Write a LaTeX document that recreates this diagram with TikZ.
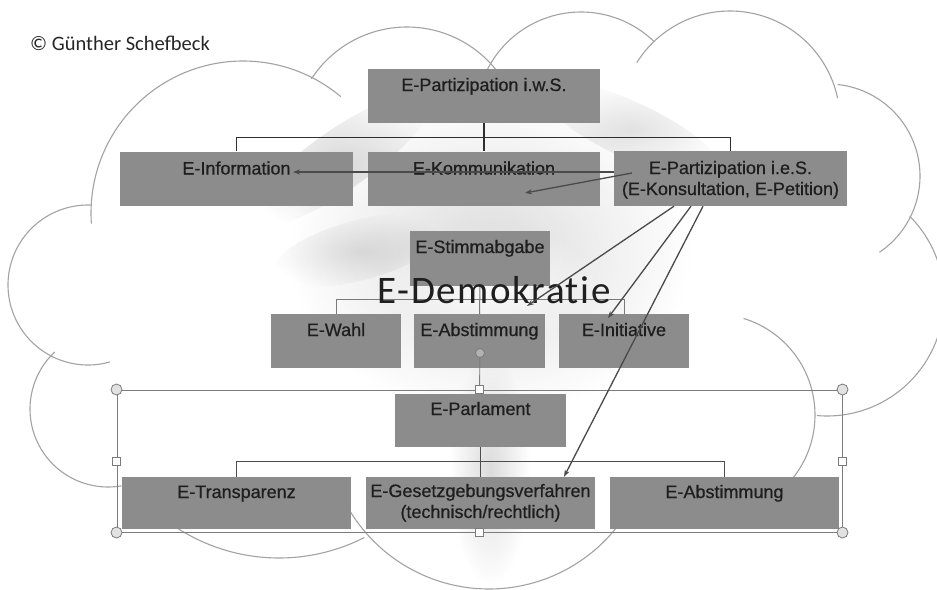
\documentclass[tikz,border=0pt]{standalone}
\usepackage{fontspec}
\setmainfont{Liberation Sans}
\newfontfamily\boxfont{Liberation Sans}[FakeBold=0.6]
\newfontfamily\calfont{Carlito}
\newfontfamily\demofont{Carlito}[LetterSpace=4,Ligatures={NoCommon,NoContextual}]
\usetikzlibrary{arrows.meta,fadings,calc}

\definecolor{boxgray}{HTML}{8C8C8C}
\definecolor{boxtxt}{HTML}{1E1E1E}
\definecolor{cloudc}{HTML}{A3A3A3}
\definecolor{conndark}{HTML}{2E2E2E}
\definecolor{connmid}{HTML}{7A7A7A}
\definecolor{arrc}{HTML}{4A4A4A}
\definecolor{selc}{HTML}{7C7C7C}
\definecolor{handlef}{HTML}{E2E2E2}
\definecolor{splash}{HTML}{8A8A8A}

\tikzfading[name=softblob, inner color=transparent!0, outer color=transparent!100]

\tikzset{
  cloudline/.style={draw=cloudc, line width=1.1pt},
  box/.style={rectangle, fill=boxgray, inner sep=0pt, text height=23pt, text depth=31pt,
    align=center, font=\boxfont\fontsize{18}{21}\selectfont, text=boxtxt},
  tconn/.style={draw=conndark, line width=1.5pt},
  mconn/.style={draw=connmid, line width=1pt},
  bconn/.style={draw=conndark!85, line width=1.2pt},
  arr/.style={draw=arrc, line width=1.3pt, -{Stealth[length=7pt,width=5pt]}},
  selframe/.style={rectangle, draw=selc, line width=1pt, inner sep=0pt},
  hcirc/.style={circle, draw=selc, fill=handlef, line width=0.8pt, minimum size=11pt, inner sep=0pt},
  hsq/.style={rectangle, draw=selc, fill=white, line width=0.8pt, minimum size=8pt, inner sep=0pt},
  rothandle/.style={circle, draw=selc, fill=black!30, line width=0.8pt, minimum size=9pt, inner sep=0pt},
  hline/.style={draw=selc, line width=0.9pt},
  splashblob/.style={fill=splash, path fading=softblob}
}

\newcommand{\cloudarc}[5]{\draw[cloudline] plot[domain=#4:#5,samples=60,smooth] ({#1+#3*cos(\x)},{#2+#3*sin(\x)});}

\begin{document}
\begin{tikzpicture}[x=1pt,y=-1pt]
\useasboundingbox (0,0) rectangle (937,589);
\clip (0,0) rectangle (937,589);
\fill[white] (0,0) rectangle (937,589);

% background burst
\fill[splashblob, fill opacity=0.3] (490,255) ellipse [x radius=200, y radius=160];
\fill[splashblob, fill opacity=0.3] (490,470) ellipse [x radius=40, y radius=115];
\fill[splashblob, fill opacity=0.3, rotate around={35:(340,160)}] (340,160) ellipse [x radius=110, y radius=30];
\fill[splashblob, fill opacity=0.25, rotate around={-25:(630,130)}] (630,130) ellipse [x radius=100, y radius=28];
\fill[splashblob, fill opacity=0.25, rotate around={15:(360,250)}] (360,250) ellipse [x radius=90, y radius=30];
\fill[white, path fading=softblob, fill opacity=0.9] (490,285) ellipse [x radius=110, y radius=60];

% cloud outline
\cloudarc{243}{213}{152}{176}{310}
\cloudarc{88}{285}{80}{74}{273}
\cloudarc{108}{409}{78}{80}{227}
\cloudarc{279}{370}{188}{63}{125}
\cloudarc{489}{426}{163}{38}{152}
\cloudarc{714}{415}{101}{-73}{42}
\cloudarc{827}{299}{117}{-45}{95}
\cloudarc{828}{176}{92}{-84}{56}
\cloudarc{730}{121}{110}{212}{348}
\cloudarc{581}{117}{105}{200}{314}
\cloudarc{407}{141}{114}{213}{322}

% top tree
\node[box, minimum width=232pt, text height=22pt, text depth=32pt] (pw) at (484,96) {E-Partizipation i.w.S.};
\node[box, minimum width=233pt] (info) at (236.5,178.5) {E-Information};
\node[box, minimum width=232pt] (komm) at (484,178.5) {E-Kommunikation};
\node[box, minimum width=233pt, text height=44pt, text depth=11pt] (pies) at (730.5,178.5) {E-Partizipation i.e.S.\\(E-Konsultation, E-Petition)};
\draw[tconn] (pw.south) -- (komm.north);
\draw[tconn] (info.north) -- ++(0,-14) -| (pies.north);

% middle tree
\node[box, minimum width=140pt, text height=22pt, text depth=33pt] (stimm) at (480,258.5) {E-Stimmabgabe};
\node[box, minimum width=130pt, text height=22pt, text depth=32pt] (wahl) at (336,341) {E-Wahl};
\node[box, minimum width=131pt, text height=22pt, text depth=32pt] (abst1) at (479.5,341) {E-Abstimmung};
\node[box, minimum width=130pt, text height=22pt, text depth=32pt] (init) at (624,341) {E-Initiative};
\draw[mconn] (stimm.south) -- (abst1.north);
\draw[mconn] (wahl.north) -- ++(0,-14) -| (init.north);

\node[font=\demofont\fontsize{39}{39}\selectfont, text=black!88, anchor=base, inner sep=0pt] (edemo) at (494,303) {E-Demokratie};

% bottom tree
\node[box, minimum width=171pt, text height=21pt, text depth=32pt] (parl) at (480.5,420.5) {E-Parlament};
\node[box, minimum width=229pt, text height=21pt, text depth=31pt] (transp) at (236.5,503) {E-Transparenz};
\node[box, minimum width=229pt, text height=41pt, text depth=11pt] (gesetz) at (480.5,503) {E-Gesetzgebungsverfahren\\(technisch/rechtlich)};
\node[box, minimum width=229pt, text height=21pt, text depth=31pt] (abst2) at (724.5,503) {E-Abstimmung};
\draw[bconn] (parl.south) -- (gesetz.north);
\draw[bconn] (transp.north) -- ++(0,-15) -| (abst2.north);

% selection frame with handles
\node[selframe, minimum width=725pt, minimum height=142pt] (sel) at (479.5,461) {};
\node[rothandle] (rot) at (480,353) {};
\draw[hline] (rot) -- (sel.north);
\node[hcirc] (hnw) at (sel.north west) {};
\node[hcirc] (hne) at (sel.north east) {};
\node[hcirc] (hsw) at (sel.south west) {};
\node[hcirc] (hse) at (sel.south east) {};
\node[hsq] (hn) at (sel.north) {};
\node[hsq] (hs) at (sel.south) {};
\node[hsq] (hw) at (sel.west) {};
\node[hsq] (he) at (sel.east) {};

% arrows
\coordinate (a1) at (293,172);
\draw[arr] (pies.west |- a1) -- (a1);
\coordinate (s2) at (632,173);
\coordinate (a2) at (525,193);
\draw[arr] (s2) -- (a2);
\coordinate (a3) at (527,306);
\draw[arr] (pies.south -| 674,0) -- (a3);
\coordinate (a4) at (608,318);
\draw[arr] (pies.south -| 691,0) -- (a4);
\draw[arr] (pies.south -| 703,0) -- (gesetz.north -| 564,0);

% copyright
\node[font=\calfont\fontsize{20.5}{20.5}\selectfont, text=black!85, anchor=base west, inner sep=0pt] (copy) at (30,50) {© Günther Schefbeck};
\end{tikzpicture}
\end{document}
